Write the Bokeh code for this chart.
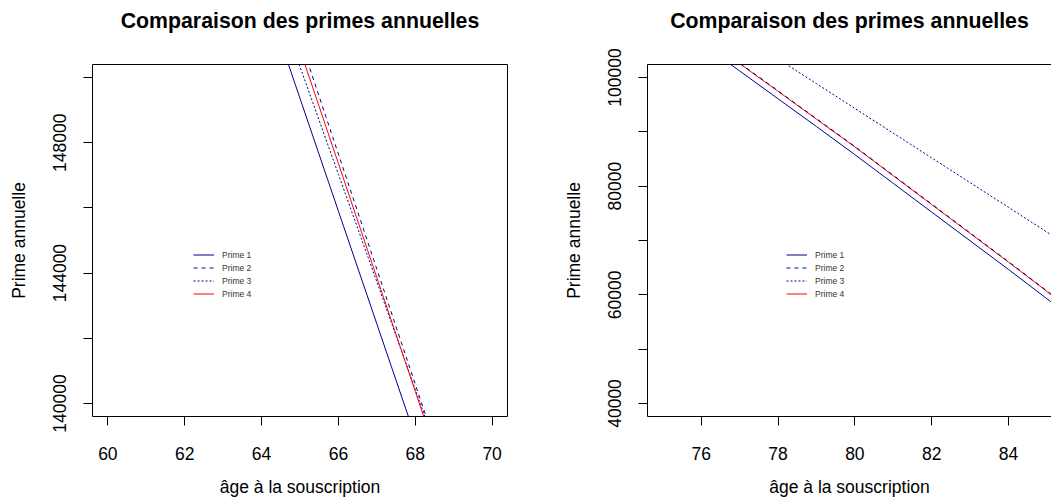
from bokeh.plotting import figure
from bokeh.models import Range1d, FixedTicker, LinearAxis, Legend, LegendItem, Span
from bokeh.layouts import row
from bokeh.embed import file_html
from bokeh.resources import INLINE

TITLE = "Comparaison des primes annuelles"
XLABEL = "âge à la souscription"
YLABEL = "Prime annuelle"
SERIES = ["Prime 1", "Prime 2", "Prime 3", "Prime 4"]

# ---- left panel data (ages 60-70 view)
left_age = [64, 65, 66, 67, 68, 69]
left_prime1 = [152820, 149360, 145900, 142440, 138980, 135510]
left_prime2 = [154700, 151180, 147650, 144120, 140590, 137060]
left_prime3 = [153640, 150330, 147030, 143730, 140430, 137120]
left_prime4 = [154350, 150850, 147360, 143860, 140370, 136870]
left_xticks = [60, 62, 64, 66, 68, 70]
left_yticks = [140000, 142000, 144000, 146000, 148000, 150000]
left_ylabels = ["140000", "", "144000", "", "148000", ""]
left_xlim = (59.6, 70.4)
left_ylim = (139600, 150400)

# ---- right panel data (ages 75-85 view)
right_age = [76, 77, 78, 79, 80, 81, 82, 83, 84, 85, 86]
right_prime1 = [106330, 101210, 96090, 90980, 85800, 80520, 75230, 69950, 64670, 59280, 53880]
right_prime2 = [107780, 102660, 97550, 92430, 87310, 82010, 76710, 71410, 66110, 60720, 55320]
right_prime3 = [112520, 107970, 103420, 98870, 94310, 89760, 85210, 80660, 76110, 71550, 67000]
right_prime4 = [107680, 102560, 97450, 92330, 87210, 81910, 76610, 71310, 66010, 60620, 55220]
right_xticks = [76, 78, 80, 82, 84, 86]
right_yticks = [40000, 50000, 60000, 70000, 80000, 90000, 100000]
right_ylabels = ["40000", "", "60000", "", "80000", "", "100000"]
right_xlim = (74.6, 85.12)
right_ylim = (37600, 102400)

COLORS = ["darkblue", "darkblue", "darkblue", "red"]
DASHES = ["solid", "4 4", "2 2", "solid"]
FONT = "Liberation Sans"
HEIGHT = 499


def make_panel(ages, series, xlim, ylim, xticks, yticks, ylabels, width,
               border_left, border_right, legend_xy, open_right):
    p = figure(width=width, height=HEIGHT, output_backend="svg", toolbar_location=None,
               x_range=Range1d(*xlim), y_range=Range1d(*ylim),
               min_border_left=border_left, min_border_right=border_right,
               min_border_top=64, min_border_bottom=82,
               x_axis_label=XLABEL, y_axis_label=YLABEL, title=None)
    p.background_fill_color = "white"
    p.border_fill_color = "white"
    p.grid.visible = False

    for ax in list(p.xaxis) + list(p.yaxis):
        ax.major_tick_out = 9
        ax.major_tick_in = 0
        ax.minor_tick_line_color = None
        ax.major_tick_line_color = "black"
        ax.major_label_text_font = FONT
        ax.major_label_text_font_size = "17.5px"
        ax.major_label_text_color = "black"
        ax.axis_label_text_font = FONT
        ax.axis_label_text_font_size = "17.5px"
        ax.axis_label_text_font_style = "normal"
        ax.axis_label_text_color = "black"
    p.xaxis.ticker = FixedTicker(ticks=xticks)
    p.xaxis.major_label_standoff = 21
    p.xaxis.axis_label_standoff = 14
    p.yaxis.ticker = FixedTicker(ticks=yticks)
    p.yaxis.major_label_overrides = {t: l for t, l in zip(yticks, ylabels)}
    p.yaxis.major_label_orientation = "vertical"
    p.yaxis.major_label_standoff = 17
    p.yaxis.axis_label_standoff = 22

    # title drawn as the label of a tick-less top axis
    tax = LinearAxis(ticker=FixedTicker(ticks=[]), axis_line_color=None,
                     major_tick_line_color=None, minor_tick_line_color=None,
                     major_tick_out=0, major_label_text_font_size="0px",
                     major_label_standoff=0, axis_label=TITLE, axis_label_standoff=32,
                     axis_label_text_font=FONT, axis_label_text_font_size="21.3px",
                     axis_label_text_font_style="bold", axis_label_text_color="black")
    p.add_layout(tax, "above")

    if open_right:
        p.outline_line_color = None
        p.xaxis.axis_line_color = "black"
        p.yaxis.axis_line_color = "black"
        p.add_layout(Span(location=ylim[1], dimension="width", line_color="black",
                          line_width=1))
    else:
        p.outline_line_color = "black"
        p.outline_line_width = 1
        p.outline_line_alpha = 1
        p.xaxis.axis_line_color = None
        p.yaxis.axis_line_color = None

    renderers = {}
    for idx in [0, 2, 3, 1]:
        renderers[idx] = p.line(ages, series[idx], line_color=COLORS[idx], line_width=1,
                                line_dash=DASHES[idx])
    items = [LegendItem(label=SERIES[i], renderers=[renderers[i]]) for i in range(4)]
    leg = Legend(items=items, location=legend_xy, border_line_color=None,
                 background_fill_alpha=0, padding=5, margin=0, spacing=0,
                 glyph_width=21, glyph_height=13, label_height=13, label_standoff=8,
                 label_text_font=FONT, label_text_font_size="8.5px",
                 label_text_color="#333333")
    p.add_layout(leg)
    return p


p1 = make_panel(left_age, [left_prime1, left_prime2, left_prime3, left_prime4],
                left_xlim, left_ylim, left_xticks, left_yticks, left_ylabels,
                540, 92, 33, (101, 116), False)
p2 = make_panel(right_age, [right_prime1, right_prime2, right_prime3, right_prime4],
                right_xlim, right_ylim, right_xticks, right_yticks, right_ylabels,
                511, 107, 0, (139, 116), True)

layout = row(p1, p2)
open("out.html", "w").write(file_html(layout, INLINE))
